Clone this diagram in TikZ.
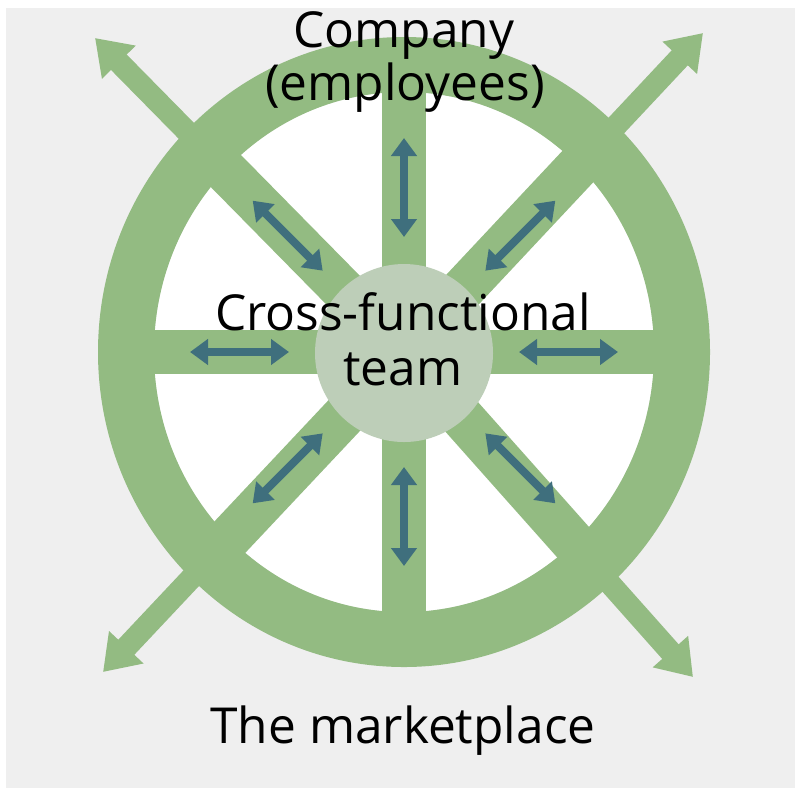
\documentclass[tikz,border=0pt]{standalone}
\usepackage{fontspec}
\setmainfont{Open Sans}
\usepackage{tikz}
\usetikzlibrary{arrows.meta,calc,positioning}
\definecolor{wheelgreen}{RGB}{147,187,130}
\definecolor{hubgreen}{RGB}{189,206,184}
\definecolor{arrowteal}{RGB}{63,111,125}
\definecolor{bggray}{RGB}{239,239,239}
\tikzset{
  spoke/.style={wheelgreen,line width=22pt},
  outarrow/.style={wheelgreen,line width=11pt,-{Triangle[width=22.5pt,length=17pt]}},
  linkarrow/.style={arrowteal,line width=4pt,{Triangle[width=12.5pt,length=9pt]}-{Triangle[width=12.5pt,length=9pt]}},
  hub/.style={circle,fill=hubgreen,minimum size=89pt,inner sep=0pt},
  wheeltext/.style={font=\fontsize{24.8}{27}\selectfont,anchor=base,inner sep=0pt}
}
\begin{document}
\begin{tikzpicture}[x=0.5pt,y=-0.5pt]
\useasboundingbox (0,0) rectangle (795,788);
\fill[bggray] (6,8) rectangle (795,788);
\coordinate (c) at (404,352);
\coordinate (tl) at (95,38);
\coordinate (tr) at (703,33);
\coordinate (bl) at (103,672);
\coordinate (br) at (693,677);
% wheel
\fill[white] (c) ellipse [x radius=250,y radius=260];
\foreach \t in {tl,tr,bl,br}
  \draw[outarrow] (c) -- (\t);
\foreach \a in {0,90,180,270}
  \draw[spoke,shift={(c)}] (0,0) -- (\a:280);
\foreach \t in {tl,tr,bl,br}
  \draw[spoke] (c) -- ($(c)!0.63!(\t)$);
\fill[wheelgreen,even odd rule] (c) ellipse [x radius=306,y radius=315]
  (c) ellipse [x radius=250,y radius=260];
\node[hub] (team hub) at (404,353) {};
% links to the team
\foreach \a in {0,45,...,315}
  \draw[linkarrow,shift={(c)}] (\a:115) -- (\a:214);
% labels
\node[wheeltext] (company) at (404,47) {Company};
\node[wheeltext] (employees) at (405,100) {(employees)};
\node[wheeltext] (cross) at (403,330) {Cross-functional};
\node[wheeltext] (team) at (403,385) {team};
\node[wheeltext] (market) at (403,743) {The marketplace};
\end{tikzpicture}
\end{document}
